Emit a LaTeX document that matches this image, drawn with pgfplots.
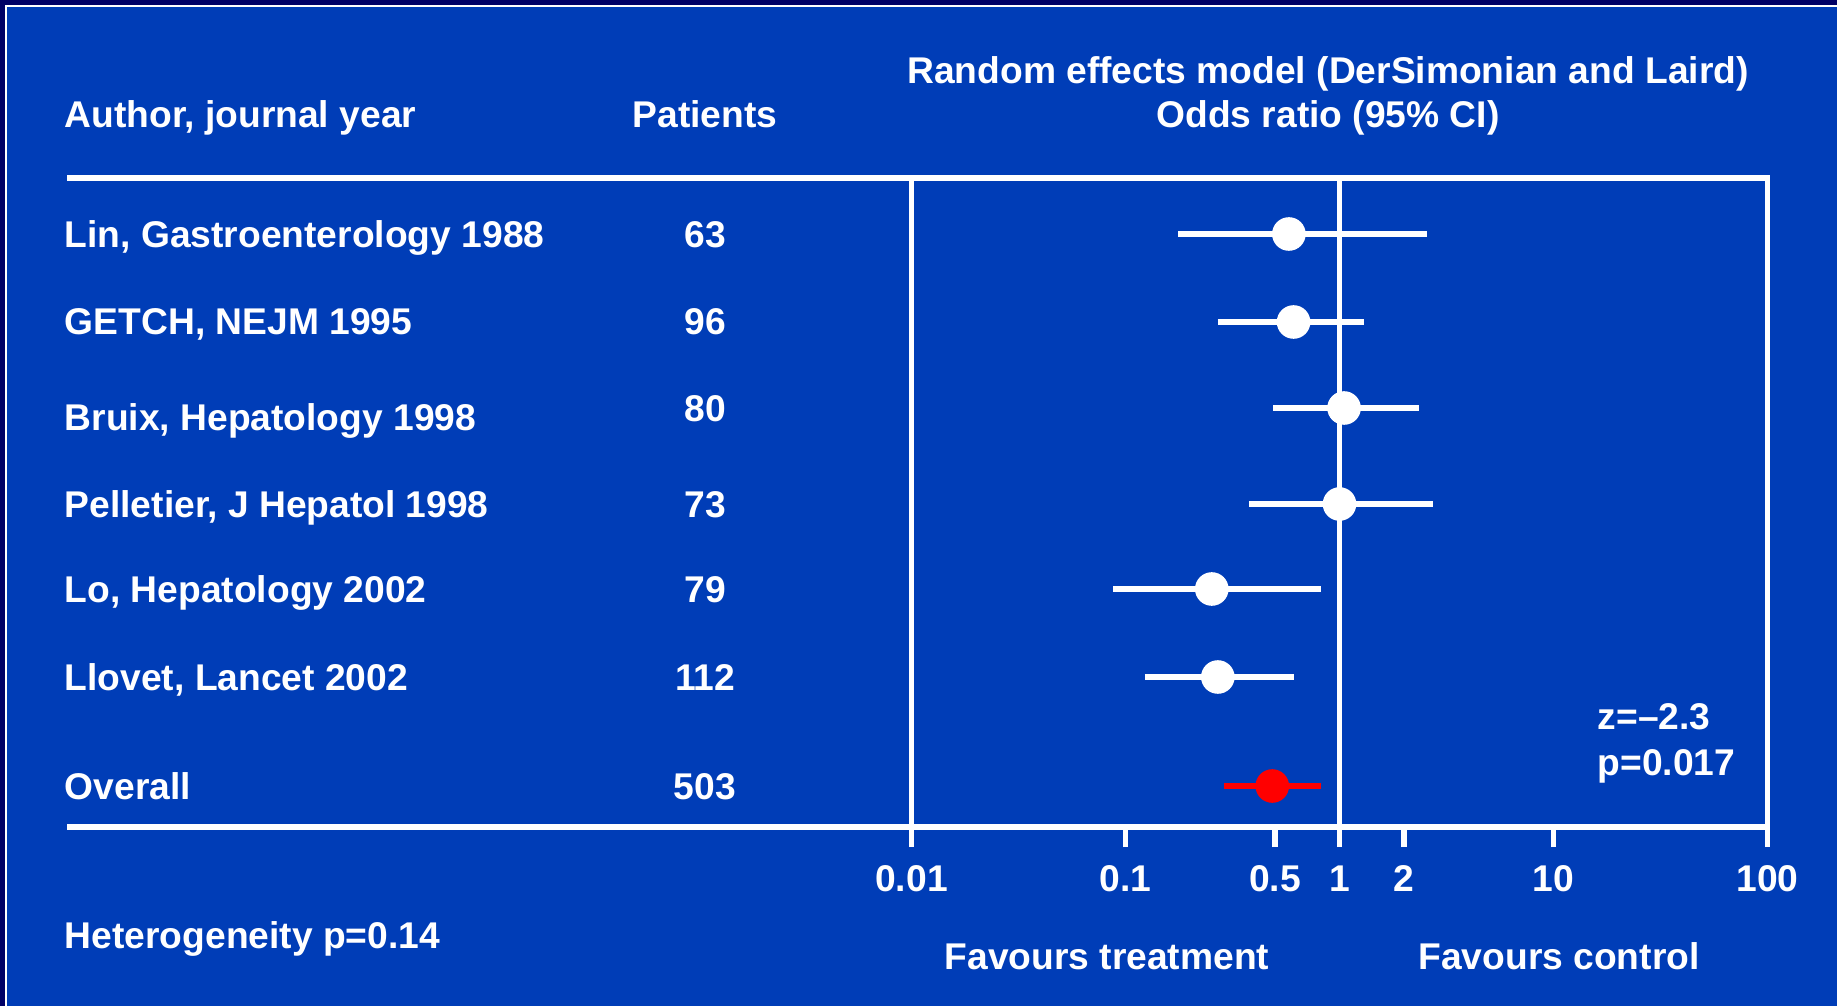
\documentclass[border=0pt]{standalone}
\usepackage{fontspec}
\setmainfont{Liberation Sans}
\usepackage{pgfplots}
\usepackage{pgfplotstable}
\pgfplotsset{compat=1.18}
\definecolor{slide}{RGB}{0,61,183}
\definecolor{frame}{RGB}{0,0,102}
\newcommand\lbl{\fontsize{9.3pt}{11pt}\selectfont\bfseries}

% odds ratio, 95% CI, row position
\pgfplotstableread{
or     lo      hi     y
0.58   0.176   2.56   772
0.61   0.27    1.30   684
1.05   0.49    2.36   598
1.00   0.377   2.74   502
0.253  0.0876  0.82   417
0.27   0.123   0.61   329
}\studies

\begin{document}
\begin{tikzpicture}[x=0.25pt,y=0.25pt]
\useasboundingbox (0,0) rectangle (1837,1006);
\fill[frame] (0,0) rectangle (1837,1006);
\fill[slide] (7,0) rectangle (1837,999);
\draw[white,line width=0.5pt] (6,0) -- (6,1000) -- (1837,1000);

\begin{scope}[every node/.style={text=white,font=\lbl,inner sep=0pt}]
\node[anchor=base west] at (64,878.5) {Author, journal year};
\node[anchor=base] at (705,878.5) {Patients};
\node[anchor=base] at (1328,922) {Random effects model (DerSimonian and Laird)};
\node[anchor=base] at (1328,878.5) {Odds ratio (95\% CI)};

\foreach \name/\n/\yl/\yn in {{Lin, Gastroenterology 1988}/63/758/758,
  {GETCH, NEJM 1995}/96/671/671,
  {Bruix, Hepatology 1998}/80/575/584.5,
  {Pelletier, J Hepatol 1998}/73/488/488,
  {Lo, Hepatology 2002}/79/403/403,
  {Llovet, Lancet 2002}/112/316/316,
  {Overall}/503/207/207}{
  \node[anchor=base west] at (64,\yl) {\name};
  \node[anchor=base] at (705,\yn) {\n};
}

\node[anchor=base west] at (64,57.5) {Heterogeneity p=0.14};
\node[anchor=base] at (1107,36.5) {Favours treatment};
\node[anchor=base] at (1559,36.5) {Favours control};
\node[anchor=base west] at (1597,276.5) {z=–2.3};
\node[anchor=base west] at (1597,230.5) {p=0.017};
\end{scope}

\draw[white,line width=1.4pt] (67,828) -- (1768,828);
\draw[white,line width=1.4pt] (67,179) -- (1768,179);

\begin{axis}[
  at={(227.875pt,44.75pt)}, anchor=south west,
  scale only axis, width=214pt, height=162.25pt,
  xmode=log, xmin=0.01, xmax=100, ymin=179, ymax=828,
  axis line style={white,line width=1.4pt},
  ytick=\empty, xminorticks=false,
  xtick={0.01,0.1,0.5,1,2,10,100},
  xticklabels={0.01,0.1,0.5,1,2,10,100},
  xtick pos=bottom, tick align=outside, major tick length=5pt,
  tick style={white,line width=1.4pt},
  xticklabel style={font=\lbl,text=white,anchor=base,yshift=-11pt},
  /pgf/number format/assume math mode=true,
  clip=false,
]
\addplot[white,line width=1.4pt] coordinates {(1,179) (1,828)};
\addplot[white,line width=1.4pt] coordinates {(0.176,772) (2.56,772)};
\addplot[white,line width=1.4pt] coordinates {(0.27,684) (1.30,684)};
\addplot[white,line width=1.4pt] coordinates {(0.49,598) (2.36,598)};
\addplot[white,line width=1.4pt] coordinates {(0.377,502) (2.74,502)};
\addplot[white,line width=1.4pt] coordinates {(0.0876,417) (0.82,417)};
\addplot[white,line width=1.4pt] coordinates {(0.123,329) (0.61,329)};
\addplot[only marks,mark=*,mark size=4pt,white] table[x=or,y=y]{\studies};
\addplot[red,line width=1.4pt] coordinates {(0.29,220) (0.82,220)};
\addplot[only marks,mark=*,mark size=4pt,red] coordinates {(0.485,220)};
\end{axis}
\end{tikzpicture}
\end{document}
